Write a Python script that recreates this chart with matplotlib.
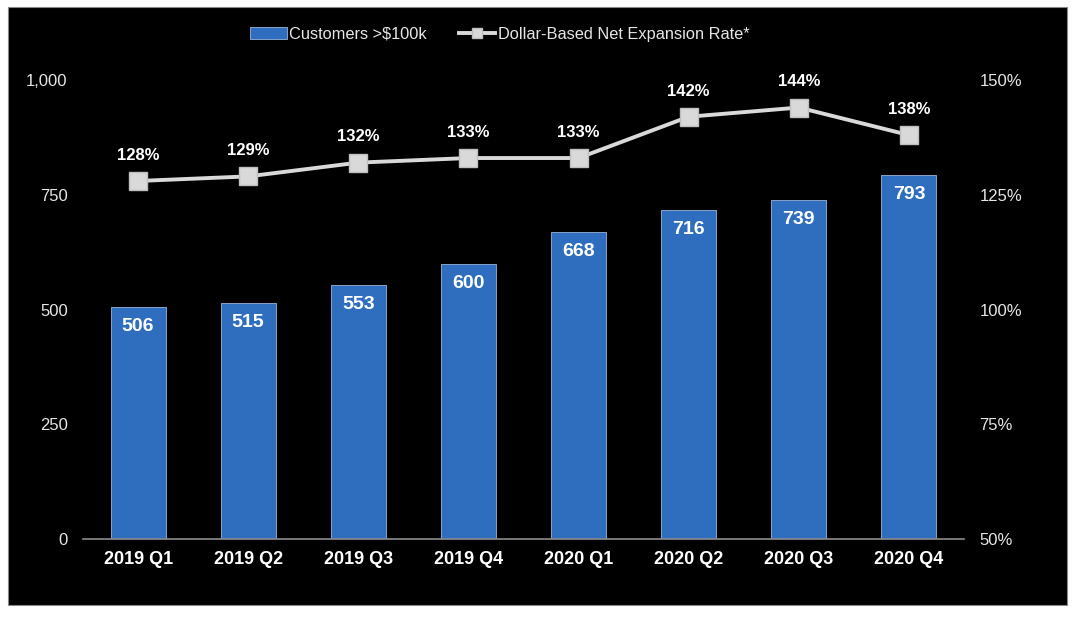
import matplotlib.pyplot as plt
from matplotlib.patches import Rectangle
from matplotlib.ticker import FuncFormatter

# ===== dados =====
quarters = ["2019 Q1", "2019 Q2", "2019 Q3", "2019 Q4",
            "2020 Q1", "2020 Q2", "2020 Q3", "2020 Q4"]
customers = [506, 515, 553, 600, 668, 716, 739, 793]
net_expansion = [128, 129, 132, 133, 133, 142, 144, 138]

BAR_COLOR = "#2f6ebf"
LINE_COLOR = "#d9d9d9"

plt.rcParams["font.family"] = ["Liberation Sans", "DejaVu Sans"]

fig = plt.figure(figsize=(10.76, 6.22), dpi=100, facecolor="white")
# painel preto de fundo
fig.patches.append(Rectangle((8 / 1076, 1 - 605 / 622), 1059 / 1076, 598 / 622,
                             transform=fig.transFigure, facecolor="black",
                             edgecolor="#888888", linewidth=0.8, zorder=-10))

ax = fig.add_axes([83 / 1076, 1 - 539 / 622, 881 / 1076, 459 / 622])
ax.set_facecolor("none")
x = list(range(len(quarters)))
bars = ax.bar(x, customers, width=0.5, color=BAR_COLOR, edgecolor="#9bb5d8",
              linewidth=0.6, label="Customers >$100k", zorder=2)
ax.set_xlim(-0.5, len(quarters) - 0.5)
ax.set_ylim(0, 1000)
ax.set_yticks([0, 250, 500, 750, 1000])
ax.yaxis.set_major_formatter(FuncFormatter(lambda v, p: f"{int(v):,}"))
ax.set_xticks(x)
ax.set_xticklabels(quarters, fontsize=13, fontweight="bold", color="white")
ax.tick_params(axis="y", colors="#e6e6e6", labelsize=12, length=0, pad=11)
ax.tick_params(axis="x", length=0, pad=9)
for s in ["top", "right", "left"]:
    ax.spines[s].set_visible(False)
ax.spines["bottom"].set_color("#8c8c8c")
ax.spines["bottom"].set_linewidth(1.2)

for b, v in zip(bars, customers):
    ax.annotate(f"{v}", (b.get_x() + b.get_width() / 2, v), xytext=(0, -14),
                textcoords="offset points", ha="center", va="center",
                color="white", fontsize=14, fontweight="bold", zorder=3)

ax2 = ax.twinx()
ax2.set_ylim(50, 150)
ax2.set_yticks([50, 75, 100, 125, 150])
ax2.yaxis.set_major_formatter(FuncFormatter(lambda v, p: f"{int(v)}%"))
ax2.tick_params(axis="y", colors="#e6e6e6", labelsize=12, length=0, pad=11)
for s in ax2.spines.values():
    s.set_visible(False)
line, = ax2.plot(x, net_expansion, color=LINE_COLOR, linewidth=2.8, marker="s",
                 markersize=13, markerfacecolor=LINE_COLOR, markeredgecolor="#bfbfbf",
                 label="Dollar-Based Net Expansion Rate*", zorder=4)
for xi, v in zip(x, net_expansion):
    ax2.annotate(f"{v}%", (xi, v), xytext=(0, 18.5), textcoords="offset points",
                 ha="center", va="center", color="white", fontsize=12,
                 fontweight="bold")

leg = fig.legend([bars, line], ["Customers >$100k", "Dollar-Based Net Expansion Rate*"],
                 loc="center", bbox_to_anchor=(500 / 1076, 1 - 34 / 622), ncol=2,
                 frameon=False, fontsize=11.8, labelcolor="#e6e6e6",
                 handlelength=2.2, handletextpad=0.15, columnspacing=2.0)
leg.legend_handles[1].set_markersize(7)

fig.savefig("out.png", dpi=100, facecolor="white")
